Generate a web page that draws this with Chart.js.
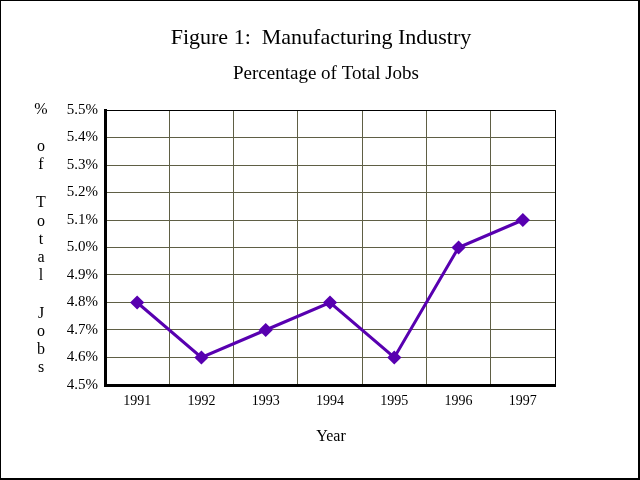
<!DOCTYPE html>
<html><head><meta charset="utf-8">
<script src="https://cdn.jsdelivr.net/npm/chart.js@4/dist/chart.umd.min.js"></script>
<style>html,body{margin:0;padding:0;background:#fff}#wrap{width:640px;height:480px;position:relative}</style>
</head><body><div id="wrap"><canvas id="c" width="640" height="480"></canvas></div>
<script>
const categories = ['1991','1992','1993','1994','1995','1996','1997'];
const shareValues = [4.8, 4.6, 4.7, 4.8, 4.6, 5.0, 5.1];
const titleText = 'Figure 1:  Manufacturing Industry';
const subtitleText = 'Percentage of Total Jobs';
const xAxisLabel = 'Year';
const yAxisLabel = '% of Total Jobs';

const serif = "'Liberation Serif', 'DejaVu Serif', serif";

const decor = {
  id: 'decor',
  afterDraw(chart) {
    const ctx = chart.ctx, a = chart.chartArea;
    ctx.save();
    // top & right frame lines
    ctx.strokeStyle = '#000'; ctx.lineWidth = 1;
    ctx.beginPath();
    ctx.moveTo(a.left, a.top + 0.5); ctx.lineTo(a.right + 0.5, a.top + 0.5);
    ctx.lineTo(a.right + 0.5, a.bottom);
    ctx.stroke();
    // titles
    ctx.fillStyle = '#000';
    ctx.textAlign = 'center'; ctx.textBaseline = 'middle';
    ctx.font = '22px ' + serif;
    ctx.fillText(titleText, 321, 38);
    ctx.font = '19px ' + serif;
    ctx.fillText(subtitleText, 326, 74);
    ctx.font = '16px ' + serif;
    ctx.fillText(xAxisLabel, 331, 437);
    // stacked vertical y label
    ctx.font = '16px ' + serif;
    const ys = [110,147,165,203,222,240,258,276,314,332,350,368];
    const letters = yAxisLabel.replace(/ /g,'').split('');
    letters.forEach((ch, i) => ctx.fillText(ch, 41, ys[i]));
    // outer border
    ctx.lineWidth = 1;
    ctx.strokeRect(0.5, 0.5, 639, 479);
    ctx.fillRect(638, 0, 2, 480);
    ctx.fillRect(0, 478, 640, 2);
    ctx.restore();
  }
};

new Chart(document.getElementById('c'), {
  type: 'line',
  data: {
    labels: categories,
    datasets: [{
      data: shareValues,
      borderColor: '#5800b0',
      backgroundColor: '#5800b0',
      borderWidth: 3,
      pointStyle: 'rectRot',
      pointRadius: 5,
      pointHoverRadius: 5,
      tension: 0
    }]
  },
  options: {
    responsive: false,
    animation: false,
    events: [],
    layout: { padding: { top: 110, right: 85, left: 0, bottom: 0 } },
    plugins: { legend: { display: false }, title: { display: false }, tooltip: { enabled: false } },
    scales: {
      x: {
        offset: true,
        grid: { offset: true, color: '#5f5f45', lineWidth: 1, drawTicks: false },
        border: { color: '#000', width: 3 },
        ticks: { color: '#000', font: { family: serif, size: 14 }, padding: 8, maxRotation: 0 },
        afterFit(s) { s.height = 95; }
      },
      y: {
        min: 4.5, max: 5.5,
        grid: { color: '#5f5f45', lineWidth: 1, drawTicks: false },
        border: { color: '#000', width: 3 },
        ticks: { stepSize: 0.1, color: '#000', font: { family: serif, size: 15 }, padding: 7,
          callback: v => v.toFixed(1) + '%' },
        afterFit(s) { s.width = 105; }
      }
    }
  },
  plugins: [decor]
});
</script></body></html>
